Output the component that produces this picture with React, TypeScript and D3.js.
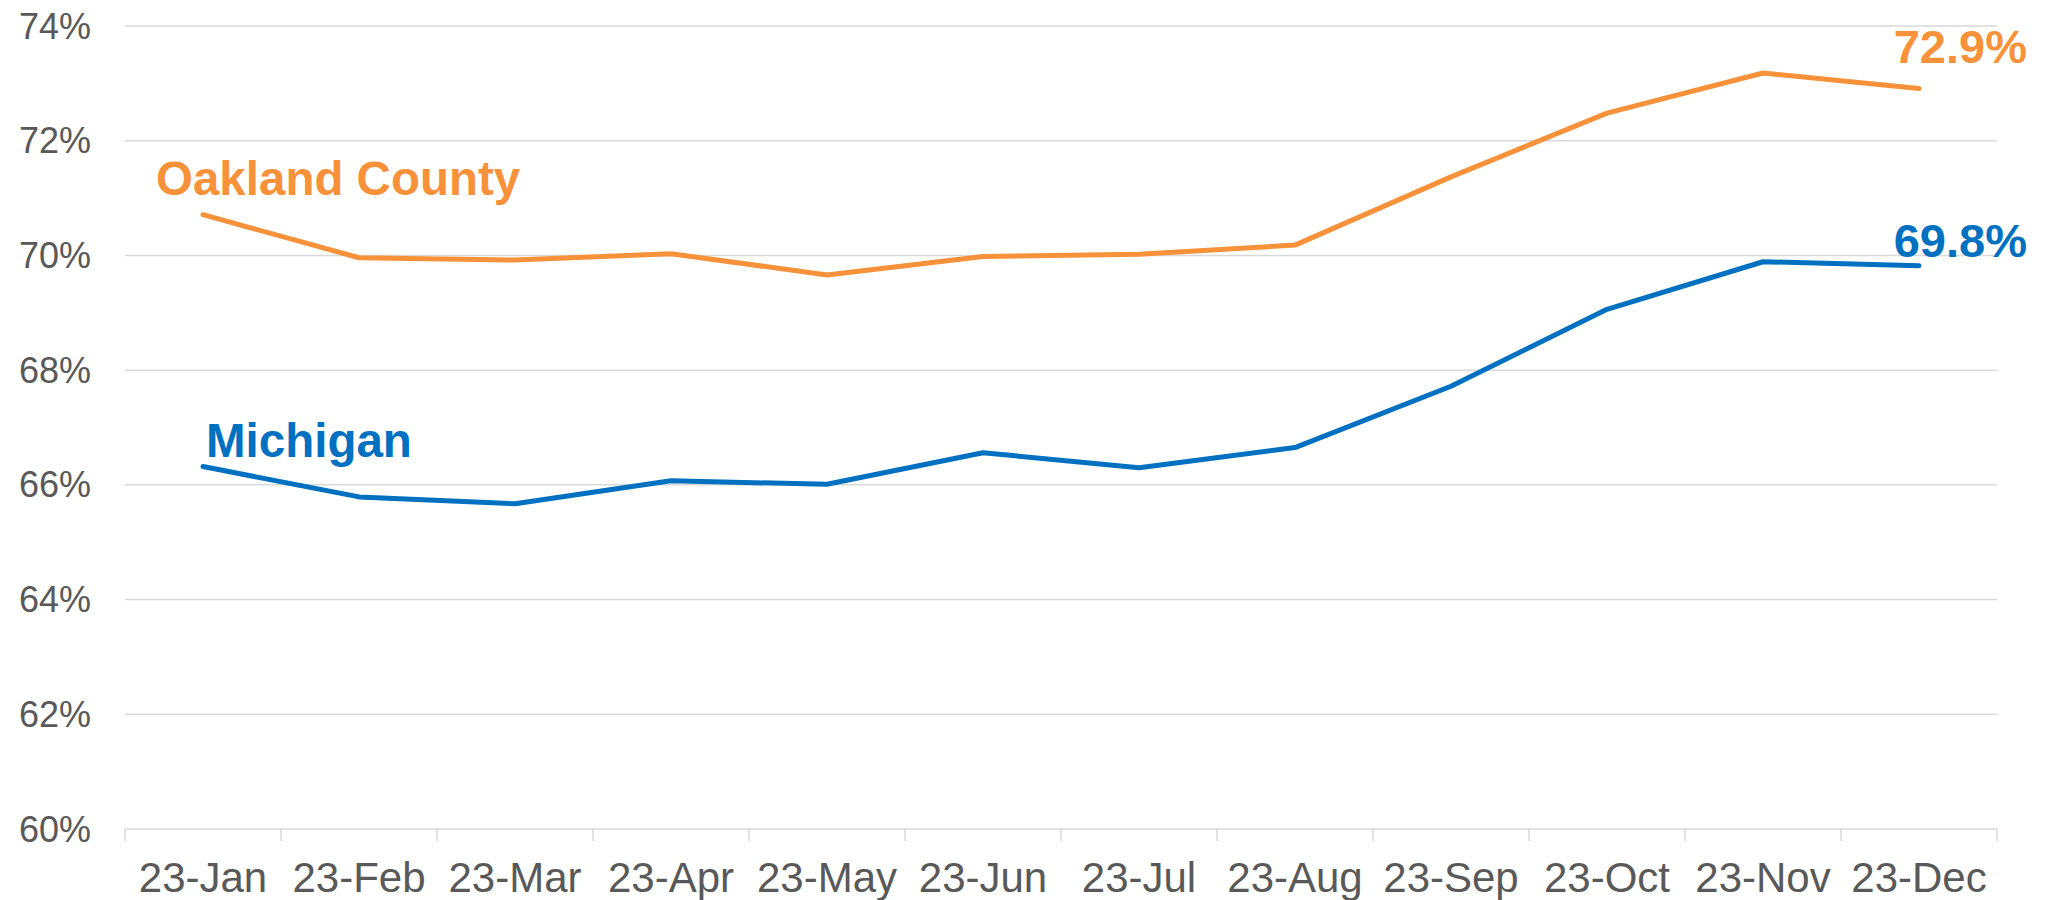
// Oakland County vs Michigan line chart, 2023 monthly rates
import React from 'react';
import * as d3 from 'd3';

const MONTHS = ['23-Jan', '23-Feb', '23-Mar', '23-Apr', '23-May', '23-Jun',
  '23-Jul', '23-Aug', '23-Sep', '23-Oct', '23-Nov', '23-Dec'];

const OAKLAND = [70.71, 69.96, 69.92, 70.03, 69.66, 69.98, 70.02, 70.18, 71.37, 72.48, 73.18, 72.91];
const MICHIGAN = [66.32, 65.79, 65.67, 66.07, 66.01, 66.56, 66.30, 66.65, 67.72, 69.06, 69.89, 69.82];

const Y_TICKS = [60, 62, 64, 66, 68, 70, 72, 74];

const ORANGE = '#F7923A';
const BLUE = '#0070C0';
const GRID = '#D9D9D9';
const TEXT = '#595959';
const FONT = '"Liberation Sans", Arial, sans-serif';

const W = 2049;
const H = 900;
const margin = { top: 26, right: 52, bottom: 71, left: 125 };

export default function App() {
  const x = d3.scaleBand<string>()
    .domain(MONTHS)
    .range([margin.left, W - margin.right]);

  const y = d3.scaleLinear()
    .domain([60, 74])
    .range([H - margin.bottom, margin.top]);

  const cx = (i: number) => (x(MONTHS[i]) ?? 0) + x.bandwidth() / 2;

  const line = d3.line<number>()
    .x((_, i) => cx(i))
    .y(d => y(d));

  const bottom = y(60);
  const bounds = [...MONTHS.map(m => x(m) ?? 0), (x(MONTHS[11]) ?? 0) + x.bandwidth()];
  const last = MONTHS.length - 1;

  return (
    <svg width={W} height={H} style={{ position: 'absolute', left: 0, top: 0, background: '#fff' }}
      fontFamily={FONT}>
      {/* gridlines */}
      {Y_TICKS.filter(t => t !== 60).map(t => (
        <line key={t} x1={margin.left} x2={W - margin.right} y1={y(t)} y2={y(t)}
          stroke={GRID} strokeWidth={1.5} />
      ))}

      {/* x axis */}
      <line x1={margin.left} x2={W - margin.right} y1={bottom} y2={bottom} stroke={GRID} strokeWidth={1.5} />
      {bounds.map((b, i) => (
        <line key={i} x1={b} x2={b} y1={bottom} y2={bottom + 12} stroke={GRID} strokeWidth={1.5} />
      ))}
      {MONTHS.map((m, i) => (
        <text key={m} x={cx(i)} y={bottom + 63} textAnchor="middle" fontSize={42} fill={TEXT}>{m}</text>
      ))}

      {/* y axis labels */}
      {Y_TICKS.map(t => (
        <text key={t} x={91} y={y(t) + 12.5} textAnchor="end" fontSize={36} fill={TEXT}>{t}%</text>
      ))}

      {/* lines */}
      <path d={line(OAKLAND) ?? ''} fill="none" stroke={ORANGE} strokeWidth={5}
        strokeLinecap="round" strokeLinejoin="round" />
      <path d={line(MICHIGAN) ?? ''} fill="none" stroke={BLUE} strokeWidth={5}
        strokeLinecap="round" strokeLinejoin="round" />

      {/* series labels */}
      <text x={cx(0) - 47} y={y(OAKLAND[0]) - 20} fontSize={47.5} fontWeight="bold" fill={ORANGE}>Oakland County</text>
      <text x={cx(0) + 3} y={y(MICHIGAN[0]) - 10} fontSize={47.5} fontWeight="bold" fill={BLUE}>Michigan</text>

      {/* end value labels */}
      <text x={cx(last) + 108} y={y(OAKLAND[last]) - 26} textAnchor="end" fontSize={47} fontWeight="bold" fill={ORANGE}>
        {OAKLAND[last].toFixed(1)}%
      </text>
      <text x={cx(last) + 108} y={y(MICHIGAN[last]) - 9} textAnchor="end" fontSize={47} fontWeight="bold" fill={BLUE}>
        {MICHIGAN[last].toFixed(1)}%
      </text>
    </svg>
  );
}
